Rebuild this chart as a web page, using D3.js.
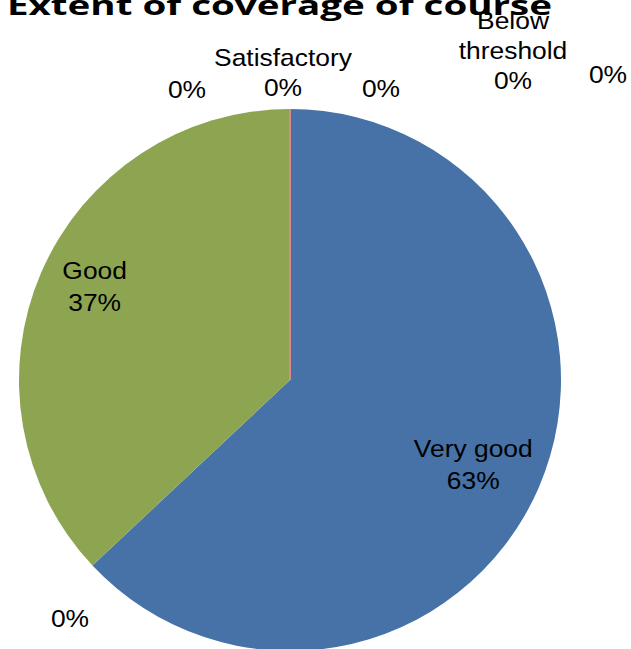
<!DOCTYPE html>
<html>
<head>
<meta charset="utf-8">
<script src="https://cdn.jsdelivr.net/npm/d3@7/dist/d3.min.js"></script>
<style>
  html, body { margin: 0; padding: 0; background: #ffffff; }
  svg { display: block; }
</style>
</head>
<body>
<svg id="chart" width="631" height="649"></svg>
<script>
// ---- data ----
const title = "Extent of coverage of course";
const categories = ["Very good", "", "Good", "", "Satisfactory", "", "Below threshold", ""];
const values = [63, 0, 37, 0, 0, 0, 0, 0];
const colors = ["#4672A7", "#C0504D", "#8DA550", "#D98A88", "#8064A2", "#4BACC6", "#F79646", "#2C4D75"];

// ---- layout (not data) ----
const W = 631, H = 649;
const cx = 290, cy = 380, R = 271;
const labelFont = "'Liberation Sans', Arial, sans-serif";
const labelSize = 24;
const labelStretch = 1.1;
const lineGap = 31;
// label radius factor / angle nudge (deg) for the non-zero slices
const labelRadius = { 0: 0.745, 2: 0.80 };
const labelNudge = { 0: 1.4, 2: 2.3 };
// label anchor for zero-size slices (Excel pushes them outside)
const zeroLabelPos = {
  1: [70, 627],
  3: [187, 98],
  4: [283, 96],
  5: [381, 97],
  6: [513, 89],
  7: [608, 83]
};

const svg = d3.select("#chart");

const total = d3.sum(values);
const data = categories.map((c, i) => ({ name: c, value: values[i], color: colors[i], idx: i }));

const pie = d3.pie().sort(null).value(d => d.value);
const arcs = pie(data);
const arc = d3.arc().innerRadius(0).outerRadius(R);

const g = svg.append("g").attr("transform", `translate(${cx},${cy})`);

g.selectAll("path.slice")
  .data(arcs.filter(a => a.value > 0))
  .join("path")
  .attr("class", "slice")
  .attr("d", arc)
  .attr("fill", d => d.data.color);

// zero slices at the top seam appear as a thin line
g.selectAll("path.zero")
  .data(arcs.filter(a => a.value === 0 && a.startAngle > Math.PI * 1.99))
  .join("path")
  .attr("class", "zero")
  .attr("d", arc)
  .attr("fill", "none")
  .attr("stroke", "#D98A88")
  .attr("stroke-width", 1.5);

// ---- labels ----
const fmt = v => Math.round(v / total * 100) + "%";

arcs.forEach(a => {
  let lines = [];
  if (a.data.name === "Below threshold") lines = ["Below", "threshold"];
  else if (a.data.name) lines = [a.data.name];
  lines = lines.concat([fmt(a.value)]);
  let x, yBase, gap;
  if (a.value > 0) {
    const i = a.data.idx;
    const ang = (a.startAngle + a.endAngle) / 2 + labelNudge[i] * Math.PI / 180;
    const r = R * labelRadius[i];
    x = cx + r * Math.sin(ang);
    const yc = cy - r * Math.cos(ang);
    gap = 32;
    yBase = yc + labelSize * 0.36 - (lines.length - 1) * gap / 2;
  } else {
    const p = zeroLabelPos[a.data.idx];
    gap = 30;
    x = p[0];
    yBase = p[1] - (lines.length - 1) * gap;
  }
  const t = svg.append("text")
    .attr("text-anchor", "middle")
    .attr("font-family", labelFont)
    .attr("font-size", labelSize)
    .attr("fill", "#000")
    .attr("transform", `translate(${x},0) scale(${labelStretch},1)`);
  lines.forEach((ln, k) => {
    t.append("tspan").attr("x", 0).attr("y", yBase + k * gap).text(ln);
  });
});

// ---- title ----
svg.append("text")
  .attr("x", 7)
  .attr("y", 15)
  .attr("font-family", "'Open Sans', 'Noto Sans', sans-serif")
  .attr("font-weight", "bold")
  .attr("font-size", 27)
  .attr("textLength", 545)
  .attr("lengthAdjust", "spacingAndGlyphs")
  .attr("fill", "#000")
  .text(title);
</script>
</body>
</html>
